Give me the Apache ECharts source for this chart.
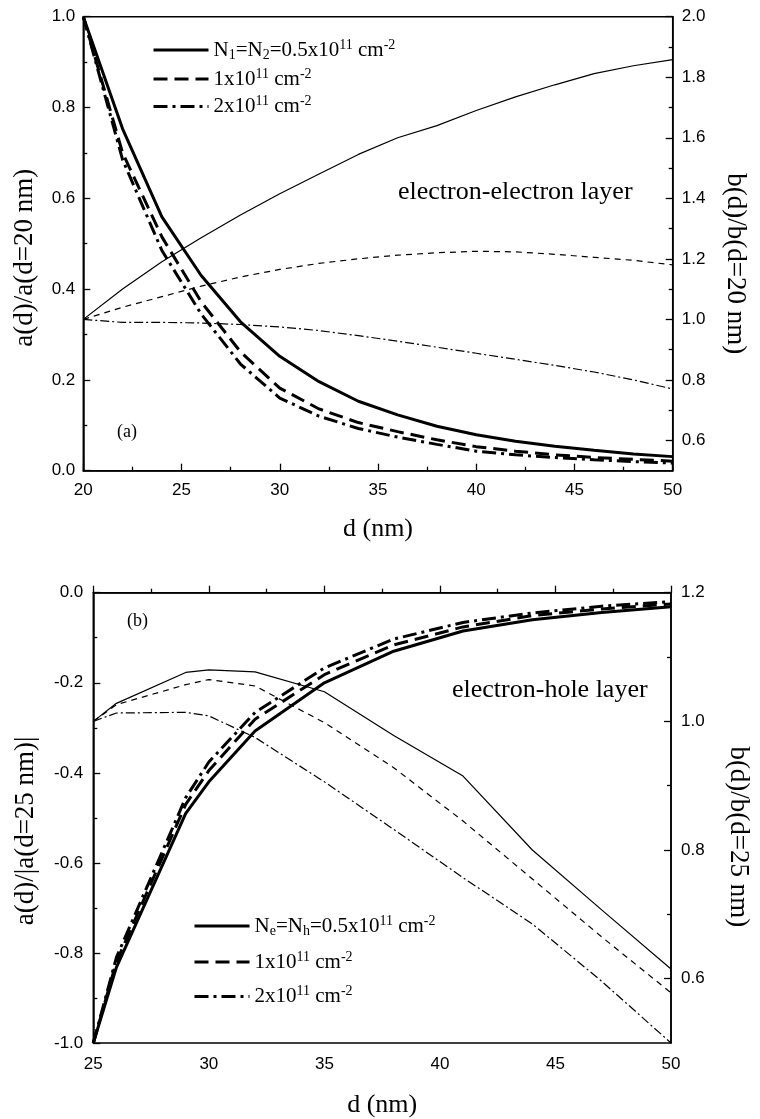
<!DOCTYPE html>
<html><head><meta charset="utf-8">
<script src="https://cdn.jsdelivr.net/npm/echarts@6/dist/echarts.min.js"></script>
<style>html,body{margin:0;padding:0;background:#fff}#c{width:760px;height:1119px}</style>
</head><body><div id="c"></div>
<script>
// ---- Panel (a): electron-electron layer ----
const dA = [20,22,24,26,28,30,32,34,36,38,40,42,44,46,48,50];
const aA_n05 = [1.0,0.753,0.559,0.43,0.328,0.252,0.196,0.153,0.123,0.098,0.079,0.065,0.054,0.045,0.037,0.031];
const aA_n1  = [1.0,0.70,0.515,0.372,0.262,0.182,0.136,0.106,0.086,0.068,0.053,0.043,0.035,0.029,0.025,0.021];
const aA_n2  = [1.0,0.685,0.485,0.345,0.235,0.16,0.12,0.093,0.074,0.058,0.043,0.035,0.029,0.024,0.020,0.017];
const bA_n05 = [1.0,1.10,1.19,1.27,1.345,1.415,1.48,1.545,1.60,1.64,1.69,1.735,1.775,1.812,1.838,1.858];
const bA_n1  = [1.0,1.04,1.075,1.11,1.14,1.165,1.185,1.20,1.212,1.22,1.225,1.223,1.215,1.205,1.195,1.18];
const bA_n2  = [1.0,0.99,0.99,0.988,0.983,0.975,0.963,0.946,0.928,0.908,0.888,0.868,0.848,0.826,0.80,0.77];
// ---- Panel (b): electron-hole layer ----
const dB = [25,26,29,30,32,35,38,41,44,47,50];
const aB_n05 = [-1.0,-0.832,-0.49,-0.42,-0.307,-0.2,-0.13,-0.085,-0.06,-0.044,-0.031];
const aB_n1  = [-1.0,-0.82,-0.47,-0.395,-0.281,-0.182,-0.116,-0.076,-0.051,-0.036,-0.025];
const aB_n2  = [-1.0,-0.81,-0.455,-0.376,-0.266,-0.167,-0.103,-0.066,-0.045,-0.030,-0.020];
const bB_n05 = [1.0,1.028,1.076,1.080,1.077,1.046,0.978,0.915,0.80,0.707,0.615];
const bB_n1  = [1.0,1.026,1.057,1.065,1.055,0.998,0.928,0.845,0.755,0.665,0.578];
const bB_n2  = [1.0,1.013,1.014,1.0085,0.975,0.906,0.832,0.757,0.685,0.596,0.50];
// ---- ticks / labels ----
const rightMajorA = [0.6,0.8,1.0,1.2,1.4,1.6,1.8,2.0];
const rightMinorA = [0.7,0.9,1.1,1.3,1.5,1.7,1.9];
const rightMajorB = [0.6,0.8,1.0,1.2];
const rightMinorB = [0.7,0.9,1.1];
const legendA = {
  A1: '{n|N}{sub|1}{n|=N}{sub|2}{n|=0.5x10}{sup|11}{n| cm}{sup|-2}',
  A2: '{n|1x10}{sup|11}{n| cm}{sup|-2}',
  A3: '{n|2x10}{sup|11}{n| cm}{sup|-2}'
};
const legendB = {
  B1: '{n|N}{sub|e}{n|=N}{sub|h}{n|=0.5x10}{sup|11}{n| cm}{sup|-2}',
  B2: '{n|1x10}{sup|11}{n| cm}{sup|-2}',
  B3: '{n|2x10}{sup|11}{n| cm}{sup|-2}'
};

const pairs = (xs, ys) => xs.map((x, i) => [x, ys[i]]);
const SANS = 'Liberation Sans', SERIF = 'Liberation Serif';
const lineCol = '#000';
const axLine = {show: true, lineStyle: {color: lineCol, width: 1.5}};
const tick = (len) => ({show: true, inside: true, length: len, lineStyle: {color: lineCol, width: 1.3}});
const minor = {show: true, splitNumber: 2, length: 4, lineStyle: {color: lineCol, width: 1.3}};
const lab = (fmt, margin) => ({color: '#000', fontFamily: SANS, fontSize: 17, margin: margin, formatter: fmt});
const f1 = v => v.toFixed(1);
const f0 = v => String(Math.round(v));

const rich = {
  n: {fontFamily: SERIF, fontSize: 21, color: '#000', lineHeight: 24},
  sub: {fontFamily: SERIF, fontSize: 14, color: '#000', verticalAlign: 'bottom'},
  sup: {fontFamily: SERIF, fontSize: 14, color: '#000', verticalAlign: 'top'}
};

const thick = (name, xi, yi, xs, ys, type) => ({
  name, type: 'line', xAxisIndex: xi, yAxisIndex: yi, data: pairs(xs, ys), color: '#000',
  symbol: 'none', smooth: false, itemStyle: {color: '#000'}, lineStyle: {color: '#000', width: 3, type: type}, z: 3, animation: false
});
const thin = (xi, yi, xs, ys, type) => ({
  type: 'line', xAxisIndex: xi, yAxisIndex: yi, data: pairs(xs, ys), color: '#000',
  symbol: 'none', smooth: false, lineStyle: {color: '#000', width: 1.2, type: type}, z: 2, animation: false
});
const DASH = [14, 7], DASHDOT = [14, 5, 3, 5];
const TDASH = [6, 5], TDASHDOT = [9, 3, 2, 3];

const nameStyle = (pad) => ({fontFamily: SERIF, fontSize: 27, color: '#000', padding: pad});

const option = {
  backgroundColor: '#fff',
  animation: false,
  grid: [
    {left: 83.3, top: 16.7, width: 589.4, height: 454, show: true, borderColor: '#000', borderWidth: 1.5, backgroundColor: 'transparent'},
    {left: 93.3, top: 592.7, width: 589.4, height: 453.3, show: true, borderColor: '#000', borderWidth: 1.5, backgroundColor: 'transparent'}
  ],
  xAxis: [
    {type: 'value', gridIndex: 0, min: 20, max: 50, interval: 5, axisLine: axLine, axisTick: tick(7), minorTick: minor,
     splitLine: {show: false}, axisLabel: lab(f0, 11), name: 'd (nm)', nameLocation: 'middle', nameGap: 45,
     nameTextStyle: {fontFamily: SERIF, fontSize: 26, color: '#000'}},
    {type: 'value', gridIndex: 1, min: 25, max: 50, interval: 5, axisLine: axLine, axisTick: tick(7), minorTick: minor,
     splitLine: {show: false}, axisLabel: lab(f0, 13), name: 'd (nm)', nameLocation: 'middle', nameGap: 49,
     nameTextStyle: {fontFamily: SERIF, fontSize: 26, color: '#000'}}
  ],
  yAxis: [
    {type: 'value', gridIndex: 0, min: 0, max: 1.0, interval: 0.2, position: 'left', axisLine: axLine, axisTick: tick(7), minorTick: minor,
     splitLine: {show: false}, axisLabel: lab(f1, 8), name: 'a(d)/a(d=20 nm)', nameLocation: 'middle', nameGap: 45,
     nameTextStyle: nameStyle([0, 28, 0, 0])},
    {type: 'value', gridIndex: 0, min: 0.5, max: 2.0, position: 'right', axisLine: axLine,
     axisTick: Object.assign(tick(7), {customValues: rightMajorA}),
     splitLine: {show: false}, axisLabel: Object.assign(lab(f1, 9), {customValues: rightMajorA}),
     name: 'b(d)/b(d=20 nm)', nameLocation: 'middle', nameGap: 49, nameRotate: -90,
     nameTextStyle: nameStyle([0, 0, 0, 40])},
    {type: 'value', gridIndex: 0, min: 0.5, max: 2.0, position: 'right', offset: 0, axisLine: {show: false},
     axisTick: Object.assign(tick(4), {customValues: rightMinorA}), axisLabel: {show: false}, splitLine: {show: false}},
    {type: 'value', gridIndex: 1, min: -1.0, max: 0, interval: 0.2, position: 'left', axisLine: axLine, axisTick: tick(7), minorTick: minor,
     splitLine: {show: false}, axisLabel: lab(f1, 10), name: 'a(d)/|a(d=25 nm)|', nameLocation: 'middle', nameGap: 54,
     nameTextStyle: nameStyle([0, 26, 0, 0])},
    {type: 'value', gridIndex: 1, min: 0.5, max: 1.2, position: 'right', axisLine: axLine,
     axisTick: Object.assign(tick(7), {customValues: rightMajorB}),
     splitLine: {show: false}, axisLabel: Object.assign(lab(f1, 10), {customValues: rightMajorB}),
     name: 'b(d)/b(d=25 nm)', nameLocation: 'middle', nameGap: 54, nameRotate: -90,
     nameTextStyle: nameStyle([0, 0, 0, 38])},
    {type: 'value', gridIndex: 1, min: 0.5, max: 1.2, position: 'right', offset: 0, axisLine: {show: false},
     axisTick: Object.assign(tick(4), {customValues: rightMinorB}), axisLabel: {show: false}, splitLine: {show: false}}
  ],
  legend: [
    {data: ['A1', 'A2', 'A3'], orient: 'vertical', left: 152, top: 38, padding: 0, itemWidth: 55, itemHeight: 14, itemGap: 5,
     selectedMode: false, formatter: n => legendA[n], itemStyle: {opacity: 0}, lineStyle: {width: 3, color: '#000'},
     textStyle: {rich: rich}},
    {data: ['B1', 'B2', 'B3'], orient: 'vertical', left: 193, top: 914, padding: 0, itemWidth: 55, itemHeight: 14, itemGap: 12,
     selectedMode: false, formatter: n => legendB[n], itemStyle: {opacity: 0}, lineStyle: {width: 3, color: '#000'},
     textStyle: {rich: rich}}
  ],
  series: [
    thin(0, 1, dA, bA_n05, 'solid'),
    thin(0, 1, dA, bA_n1, TDASH),
    thin(0, 1, dA, bA_n2, TDASHDOT),
    thick('A1', 0, 0, dA, aA_n05, 'solid'),
    thick('A2', 0, 0, dA, aA_n1, DASH),
    thick('A3', 0, 0, dA, aA_n2, DASHDOT),
    thin(1, 4, dB, bB_n05, 'solid'),
    thin(1, 4, dB, bB_n1, TDASH),
    thin(1, 4, dB, bB_n2, TDASHDOT),
    thick('B1', 1, 3, dB, aB_n05, 'solid'),
    thick('B2', 1, 3, dB, aB_n1, DASH),
    thick('B3', 1, 3, dB, aB_n2, DASHDOT)
  ],
  graphic: [
    {type: 'text', x: 117, y: 432, style: {text: '(a)', fontFamily: SERIF, fontSize: 18, fill: '#000', verticalAlign: 'middle'}},
    {type: 'text', x: 398, y: 192, style: {text: 'electron-electron layer', fontFamily: SERIF, fontSize: 26, fill: '#000', verticalAlign: 'middle'}},
    {type: 'text', x: 127, y: 621, style: {text: '(b)', fontFamily: SERIF, fontSize: 18, fill: '#000', verticalAlign: 'middle'}},
    {type: 'text', x: 452, y: 690, style: {text: 'electron-hole layer', fontFamily: SERIF, fontSize: 26, fill: '#000', verticalAlign: 'middle'}}
  ]
};
const chart = echarts.init(document.getElementById('c'), null, {renderer: 'canvas'});
chart.setOption(option);
</script>
</body></html>
